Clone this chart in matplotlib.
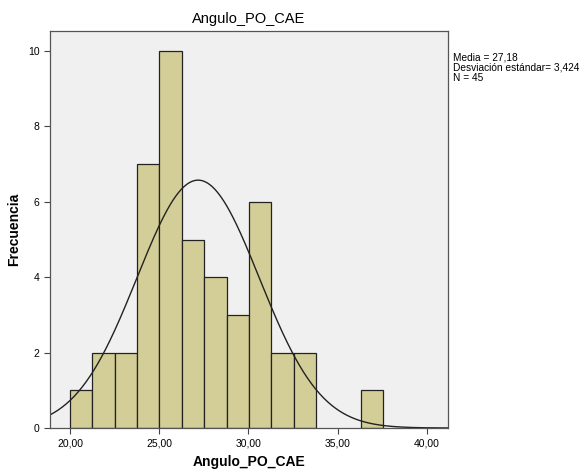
import numpy as np
import matplotlib.pyplot as plt

plt.rcParams['font.family'] = ['Liberation Sans', 'DejaVu Sans']

# histogram data
bin_start = 20.0
bin_width = 1.254
counts = [1, 2, 2, 7, 10, 5, 4, 3, 6, 2, 2, 0, 0, 1]
media = 27.18
desv = 3.424
n = 45
xticks = [20, 25, 30, 35, 40]
yticks = [0, 2, 4, 6, 8, 10]

fig = plt.figure(figsize=(5.84, 4.75), dpi=100)
ax = fig.add_axes([0.0856, 0.0989, 0.6814, 0.8358])
ax.set_facecolor('#F0F0F0')

lefts = bin_start + bin_width * np.arange(len(counts))
for l, c in zip(lefts, counts):
    if c > 0:
        ax.bar(l, c, width=bin_width, align='edge', color='#D3CE97',
               edgecolor='#222222', linewidth=0.9)

xmin, xmax = 18.88, 41.18
xs = np.linspace(xmin, xmax, 400)
ys = n * bin_width / (desv * np.sqrt(2 * np.pi)) * np.exp(-0.5 * ((xs - media) / desv) ** 2)
ax.plot(xs, ys, color='#222222', linewidth=1.0)

ax.set_xlim(xmin, xmax)
ax.set_ylim(0, 10.53)
ax.set_xticks(xticks)
ax.set_xticklabels([('%.2f' % v).replace('.', ',') for v in xticks])
ax.set_yticks(yticks)
ax.tick_params(labelsize=7.5, length=4, width=0.8, color='#444444')
for s in ax.spines.values():
    s.set_color('#555555')
    s.set_linewidth(0.9)

ax.set_title('Angulo_PO_CAE', fontsize=10.5, pad=6)
ax.set_xlabel('Angulo_PO_CAE', fontsize=10, fontweight='bold', labelpad=5)
ax.set_ylabel('Frecuencia', fontsize=10, fontweight='bold', labelpad=5)

fig.text(0.776, 0.89, 'Media = 27,18\nDesviación estándar= 3,424\nN = 45',
         fontsize=7.3, va='top', ha='left', linespacing=1.05)

fig.savefig('out.png', dpi=100, facecolor='white')
